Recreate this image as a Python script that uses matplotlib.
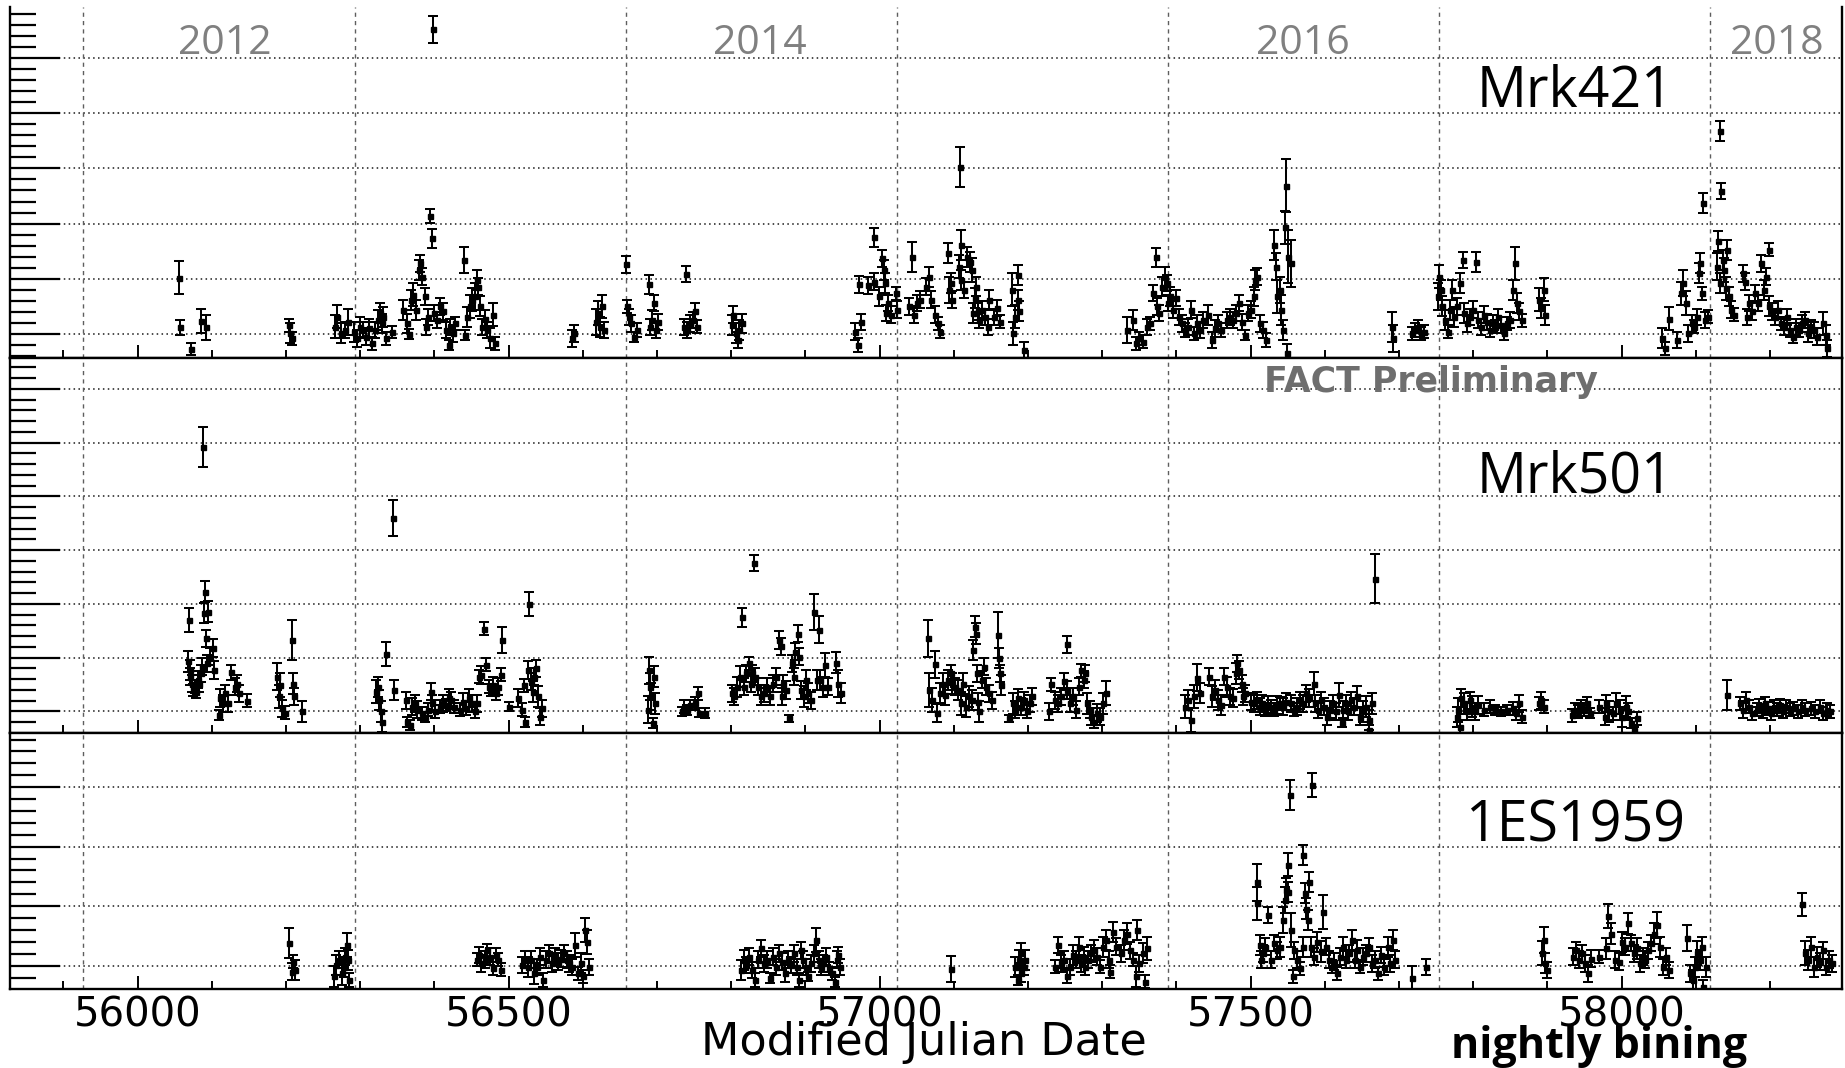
import matplotlib.pyplot as plt
from matplotlib.ticker import MultipleLocator

# Mrk421 nightly light curve (MJD, flux, error)
MRK421_MJD = [
    56056, 56057, 56072, 56085, 56092,
    56204, 56206, 56208,
    56266, 56269, 56274, 56280, 56284, 56292, 56296, 56300, 56304, 56308,
    56312, 56316, 56320, 56324, 56326, 56329, 56331, 56335, 56343,
    56358, 56363, 56366, 56369, 56371, 56375, 56379, 56381, 56383, 56387,
    56389, 56391, 56394, 56397, 56398, 56399, 56403, 56407, 56411, 56415,
    56419, 56421, 56425, 56428, 56440, 56441, 56444, 56448, 56451, 56455,
    56457, 56459, 56461, 56464, 56468, 56471, 56475, 56479, 56481,
    56586, 56588, 56618, 56620, 56623, 56626, 56628,
    56658, 56659, 56662, 56665, 56669, 56673, 56689, 56690, 56693, 56696,
    56699, 56701, 56737, 56739, 56741, 56745, 56749, 56751, 56754,
    56801, 56803, 56806, 56809, 56811, 56814,
    56967, 56971, 56972, 56975, 56985, 56992, 56993, 56999, 57003, 57006,
    57007, 57009, 57011, 57015, 57022, 57023, 57039, 57043, 57047, 57051,
    57055, 57063, 57067, 57069, 57074, 57078, 57081, 57092, 57093, 57096,
    57098, 57107, 57108, 57109, 57110, 57114, 57118, 57122, 57125, 57126,
    57128, 57130, 57132, 57134, 57138, 57142, 57146, 57148, 57154, 57158,
    57162, 57178, 57180, 57183, 57186, 57187, 57188, 57194,
    57333, 57341, 57345, 57350, 57355, 57361, 57365, 57369, 57373, 57374,
    57377, 57381, 57385, 57387, 57389, 57392, 57396, 57400, 57404, 57408,
    57412, 57416, 57420, 57424, 57428, 57432, 57436, 57443, 57448, 57452,
    57456, 57460, 57468, 57472, 57476, 57480, 57484, 57488, 57492, 57496,
    57500, 57504, 57506, 57509, 57513, 57517, 57521, 57532, 57534, 57536,
    57540, 57541, 57543, 57546, 57548, 57549, 57551, 57554,
    57691, 57692, 57718, 57722, 57726, 57730, 57734,
    57753, 57754, 57757, 57758, 57762, 57766, 57769, 57772, 57774, 57778,
    57782, 57786, 57788, 57792, 57796, 57800, 57804, 57806, 57810, 57814,
    57818, 57822, 57826, 57830, 57834, 57838, 57842, 57846, 57850, 57854,
    57856, 57859, 57862, 57866, 57889, 57892, 57895, 57897,
    58055, 58058, 58064, 58075, 58080, 58083, 58087, 58090, 58095, 58098,
    58101, 58104, 58106, 58108, 58110, 58112, 58116, 58128, 58130, 58132,
    58133, 58134, 58136, 58138, 58140, 58142, 58145, 58148, 58152, 58164,
    58166, 58169, 58172, 58176, 58180, 58184, 58188, 58192, 58195, 58198,
    58199, 58203, 58207, 58211, 58215, 58219, 58223, 58227, 58231, 58235,
    58239, 58243, 58247, 58251, 58255, 58259, 58263, 58271, 58275, 58277,
]
MRK421_FLUX = [
    1.02, 0.12, -0.27, 0.24, 0.12,
    0.16, 0.01, -0.08,
    0.13, 0.31, 0.01, 0.07, 0.22, 0.04, -0.08, 0.13, 0.07, -0.05,
    0.10, -0.17, 0.07, 0.25, 0.38, 0.19, 0.31, -0.08, 0.04,
    0.44, 0.19, 0.00, 0.62, 0.71, 0.44, 1.16, 1.28, 1.04, 0.68,
    0.13, 0.31, 2.14, 1.73, 5.52, 0.38, 0.25, 0.50, 0.41, 0.07,
    -0.20, 0.13, 0.01, 0.19, 1.34, -0.02, 0.31, 0.50, 0.62, 0.68,
    0.98, 0.86, 0.50, 0.13, 0.28, 0.07, -0.08, 0.35, -0.17,
    -0.08, 0.01, 0.22, 0.38, 0.13, 0.50, 0.07,
    1.26, 0.50, 0.31, 0.19, -0.05, 0.07, 0.90, 0.13, 0.25, 0.56,
    0.07, 0.22, 0.13, 1.09, 0.07, 0.19, 0.25, 0.41, 0.13,
    0.16, 0.35, 0.01, -0.11, 0.07, 0.19,
    0.04, -0.20, 0.90, 0.22, 0.88, 1.75, 0.95, 0.68, 1.37, 1.16,
    0.92, 0.38, 0.56, 0.35, 0.74, 0.44, 0.50, 1.39, 0.35, 0.56,
    0.62, 0.86, 1.04, 0.62, 0.35, 0.19, 0.04, 1.46, 0.80, 0.92,
    0.62, 1.22, 3.02, 1.61, 0.98, 0.80, 1.40, 1.31, 1.16, 0.38,
    0.65, 0.86, 0.41, 0.25, 0.44, 0.31, 0.13, 0.62, 0.31, 0.47,
    0.22, 0.80, 0.01, 0.31, 1.07, 0.62, 0.41, -0.29,
    0.07, 0.25, -0.17, -0.08, -0.14, 0.13, 0.19, 0.74, 1.39, 0.50,
    0.38, 0.86, 1.04, 0.92, 0.56, 0.68, 0.44, 0.65, 0.31, 0.19,
    0.07, 0.13, 0.44, 0.01, 0.19, 0.07, 0.25, 0.35, -0.11, 0.10,
    0.19, 0.07, 0.25, 0.31, 0.25, 0.38, 0.56, 0.22, -0.02, 0.38,
    0.44, 0.68, 0.98, 1.04, 0.19, 0.07, -0.11, 1.61, 1.22, 0.68,
    0.80, 0.44, 0.07, 1.93, 2.69, -0.34, 1.40, 1.28,
    0.13, -0.08, 0.01, 0.07, 0.13, 0.01, 0.04,
    0.68, 1.04, 0.80, 0.50, 0.25, 0.04, 0.44, 0.80, 0.31, 0.50,
    0.92, 1.34, 0.38, 0.19, 0.31, 0.44, 1.31, 0.25, 0.13, 0.35,
    0.22, 0.07, 0.19, 0.13, 0.31, 0.16, 0.01, 0.19, 0.25, 0.80,
    1.28, 0.56, 0.41, 0.25, 0.62, 0.47, 0.80, 0.35,
    -0.08, -0.26, 0.28, -0.11, 0.74, 0.92, 0.56, 0.01, 0.19, 0.13,
    0.31, 1.10, 1.28, 0.74, 2.38, 0.25, 0.31, 1.22, 1.69, 0.92,
    3.67, 2.59, 1.34, 1.16, 0.83, 1.52, 0.68, 0.44, 0.35, 1.10,
    0.95, 0.31, 0.56, 0.41, 0.74, 0.56, 1.28, 0.80, 1.04, 1.53,
    0.50, 0.41, 0.31, 0.44, 0.19, 0.13, 0.31, 0.07, -0.05, 0.13,
    0.07, 0.19, 0.25, 0.01, 0.13, 0.07, -0.05, 0.19, -0.02, -0.26,
]
MRK421_ERR = [
    0.30, 0.14, 0.11, 0.22, 0.22,
    0.12, 0.18, 0.12,
    0.21, 0.21, 0.18, 0.15, 0.24, 0.18, 0.15, 0.18, 0.15, 0.15,
    0.18, 0.12, 0.15, 0.18, 0.18, 0.18, 0.18, 0.12, 0.11,
    0.18, 0.18, 0.09, 0.18, 0.21, 0.18, 0.18, 0.15, 0.15, 0.15,
    0.15, 0.15, 0.13, 0.17, 0.25, 0.15, 0.15, 0.15, 0.15, 0.15,
    0.09, 0.15, 0.15, 0.12, 0.24, 0.09, 0.18, 0.21, 0.21, 0.24,
    0.18, 0.15, 0.18, 0.15, 0.15, 0.15, 0.18, 0.21, 0.12,
    0.15, 0.15, 0.24, 0.21, 0.18, 0.21, 0.15,
    0.15, 0.12, 0.15, 0.15, 0.09, 0.12, 0.17, 0.15, 0.18, 0.15,
    0.15, 0.15, 0.15, 0.15, 0.15, 0.15, 0.15, 0.15, 0.12,
    0.18, 0.15, 0.18, 0.15, 0.18, 0.18,
    0.15, 0.12, 0.15, 0.15, 0.15, 0.17, 0.15, 0.18, 0.15, 0.18,
    0.18, 0.15, 0.15, 0.15, 0.12, 0.15, 0.15, 0.27, 0.15, 0.15,
    0.15, 0.15, 0.18, 0.15, 0.15, 0.12, 0.12, 0.18, 0.24, 0.18,
    0.15, 0.21, 0.36, 0.27, 0.18, 0.15, 0.18, 0.18, 0.21, 0.18,
    0.18, 0.18, 0.15, 0.15, 0.15, 0.15, 0.15, 0.18, 0.15, 0.15,
    0.12, 0.30, 0.21, 0.21, 0.18, 0.18, 0.18, 0.15,
    0.24, 0.18, 0.12, 0.12, 0.12, 0.15, 0.12, 0.15, 0.17, 0.15,
    0.15, 0.18, 0.18, 0.15, 0.15, 0.18, 0.15, 0.15, 0.15, 0.15,
    0.12, 0.15, 0.15, 0.12, 0.15, 0.15, 0.15, 0.18, 0.15, 0.15,
    0.15, 0.12, 0.15, 0.15, 0.15, 0.15, 0.15, 0.15, 0.09, 0.15,
    0.15, 0.18, 0.18, 0.15, 0.15, 0.15, 0.12, 0.27, 0.24, 0.30,
    0.24, 0.27, 0.18, 0.30, 0.48, 0.15, 0.48, 0.42,
    0.27, 0.24, 0.12, 0.12, 0.12, 0.12, 0.12,
    0.24, 0.21, 0.18, 0.18, 0.18, 0.12, 0.18, 0.18, 0.18, 0.15,
    0.18, 0.15, 0.18, 0.15, 0.15, 0.15, 0.18, 0.15, 0.15, 0.15,
    0.15, 0.12, 0.15, 0.12, 0.15, 0.15, 0.12, 0.12, 0.15, 0.18,
    0.30, 0.18, 0.15, 0.12, 0.21, 0.18, 0.21, 0.18,
    0.18, 0.12, 0.21, 0.15, 0.21, 0.24, 0.21, 0.15, 0.15, 0.12,
    0.15, 0.18, 0.18, 0.12, 0.18, 0.15, 0.12, 0.24, 0.18, 0.18,
    0.18, 0.15, 0.18, 0.21, 0.21, 0.18, 0.18, 0.15, 0.12, 0.15,
    0.15, 0.15, 0.15, 0.15, 0.15, 0.15, 0.15, 0.18, 0.15, 0.12,
    0.18, 0.15, 0.15, 0.15, 0.12, 0.15, 0.15, 0.12, 0.12, 0.15,
    0.12, 0.15, 0.15, 0.15, 0.12, 0.15, 0.15, 0.21, 0.18, 0.15,
]

# Mrk501 nightly light curve
MRK501_MJD = [
    56068, 56069, 56070, 56071, 56073, 56075, 56077, 56079, 56081, 56083,
    56085, 56087, 56088, 56089, 56091, 56092, 56093, 56095, 56097, 56101,
    56103, 56109, 56111, 56115, 56118, 56122, 56126, 56131, 56134, 56137,
    56147, 56188, 56190, 56192, 56195, 56198, 56208, 56210, 56211, 56222,
    56321, 56324, 56325, 56328, 56330, 56335, 56344, 56346, 56362, 56363,
    56367, 56370, 56374, 56377, 56383, 56387, 56391, 56395, 56397, 56401,
    56407, 56411, 56415, 56419, 56423, 56427, 56435, 56439, 56443, 56447,
    56451, 56455, 56457, 56460, 56463, 56467, 56470, 56473, 56476, 56479,
    56483, 56486, 56490, 56491, 56500, 56512, 56518, 56521, 56522, 56526,
    56528, 56530, 56533, 56534, 56537, 56540, 56542, 56545,
    56688, 56689, 56691, 56692, 56694, 56696, 56697,
    56733, 56737, 56741, 56745, 56751, 56755, 56757, 56765,
    56801, 56804, 56808, 56812, 56815, 56817, 56820, 56824, 56826, 56828,
    56831, 56832, 56836, 56840, 56844, 56848, 56852, 56856, 56860, 56864,
    56867, 56868, 56870, 56874, 56878, 56882, 56884, 56886, 56890, 56892,
    56894, 56898, 56901, 56904, 56908, 56912, 56915, 56918, 56920, 56924,
    56926, 56930, 56941, 56944, 56948,
    57065, 57067, 57071, 57074, 57077, 57081, 57085, 57088, 57092, 57096,
    57098, 57102, 57106, 57109, 57112, 57116, 57120, 57125, 57126, 57128,
    57130, 57131, 57133, 57134, 57138, 57140, 57144, 57148, 57152, 57160,
    57161, 57162, 57163, 57174, 57180, 57183, 57186, 57190, 57194, 57198,
    57202, 57206, 57228, 57231, 57236, 57240, 57245, 57249, 57252, 57253,
    57257, 57261, 57265, 57269, 57272, 57275, 57277, 57280, 57283, 57285,
    57289, 57293, 57297, 57301, 57305,
    57411, 57415, 57420, 57424, 57428, 57432, 57444, 57448, 57452, 57456,
    57460, 57464, 57468, 57472, 57476, 57480, 57482, 57485, 57488, 57490,
    57493, 57500, 57504, 57508, 57512, 57516, 57520, 57524, 57528, 57532,
    57536, 57540, 57544, 57548, 57555, 57559, 57563, 57567, 57571, 57575,
    57579, 57585, 57587, 57591, 57595, 57599, 57603, 57607, 57611, 57615,
    57619, 57623, 57625, 57629, 57631, 57635, 57639, 57643, 57647, 57651,
    57655, 57659, 57660, 57663, 57667,
    57778, 57780, 57782, 57784, 57788, 57792, 57796, 57799, 57802, 57806,
    57814, 57822, 57830, 57838, 57846, 57854, 57858, 57862, 57866, 57889,
    57892, 57895, 57933, 57937, 57941, 57945, 57949, 57953, 57957, 57969,
    57977, 57979, 57983, 57989, 57993, 57998, 58001, 58006, 58009, 58013,
    58017, 58021, 58142, 58160, 58164, 58168, 58172, 58176, 58182, 58185,
    58190, 58193, 58197, 58201, 58205, 58209, 58214, 58218, 58222, 58227,
    58231, 58238, 58243, 58247, 58255, 58261, 58267, 58271, 58277, 58281,
]
MRK501_FLUX = [
    0.93, 1.70, 0.77, 0.65, 0.52, 0.40, 0.46, 0.37, 0.59, 0.52,
    0.71, 0.83, 4.92, 1.83, 2.23, 1.36, 0.90, 1.86, 1.02, 1.18,
    0.77, -0.07, 0.25, 0.15, 0.34, 0.15, 0.73, 0.46, 0.52, 0.34,
    0.20, 0.65, 0.28, 0.49, 0.06, -0.02, 1.33, 0.52, 0.28, 0.00,
    0.37, 0.46, 0.21, 0.00, -0.19, 1.07, 3.60, 0.40, 0.21, -0.19,
    -0.25, 0.09, 0.15, 0.03, -0.03, -0.10, 0.03, 0.37, 0.15, 0.00,
    0.09, 0.15, 0.12, 0.25, 0.21, 0.09, 0.03, 0.18, 0.06, 0.25,
    0.15, 0.00, 0.15, 0.65, 0.68, 1.54, 0.87, 0.46, 0.40, 0.49,
    0.34, 0.46, 0.68, 1.33, 0.09, 0.25, 0.03, 0.49, -0.19, 0.77,
    2.00, 0.56, 0.37, 0.65, 0.80, 0.28, -0.10, 0.06,
    0.03, 0.77, 0.46, 0.28, -0.22, 0.65, 0.15,
    0.00, 0.09, 0.03, 0.12, 0.15, 0.34, -0.02, -0.03,
    0.34, 0.28, 0.46, 0.65, 1.75, 0.46, 0.71, 0.90, 0.52, 0.71,
    2.77, 0.65, 0.46, 0.28, 0.34, 0.46, 0.28, 0.52, 0.65, 1.33,
    1.21, 0.28, 0.52, 0.40, -0.13, 0.90, 0.65, 1.11, 1.45, 1.02,
    0.40, 0.28, 0.59, 0.34, 0.21, 1.85, 0.59, 1.52, 0.59, 0.46,
    0.87, 0.46, 0.91, 0.52, 0.34,
    1.36, 0.40, 0.21, 0.88, -0.03, 0.34, 0.52, 0.31, 0.59, 0.71,
    0.52, 0.46, 0.40, 0.15, 0.52, 0.09, 0.28, 0.21, 1.14, 1.58,
    1.45, 0.71, 0.18, 0.00, 0.59, 0.83, 0.46, 0.34, 0.21, 1.42,
    0.99, 0.71, 0.49, -0.13, 0.15, 0.03, 0.25, 0.09, 0.21, 0.00,
    0.15, 0.28, 0.00, 0.51, 0.21, 0.15, 0.28, 0.56, 1.25, 0.40,
    0.15, 0.28, 0.03, 0.46, 0.77, 0.59, 0.71, 0.15, 0.03, -0.10,
    -0.19, -0.03, -0.10, 0.15, 0.34,
    0.09, 0.21, -0.16, 0.28, 0.63, 0.34, 0.65, 0.28, 0.40, 0.21,
    0.12, 0.65, 0.46, 0.28, 0.25, 0.71, 0.90, 0.77, 0.52, 0.28,
    0.34, 0.18, 0.15, 0.21, 0.09, 0.15, 0.03, 0.12, 0.09, 0.03,
    0.12, 0.15, 0.09, 0.18, 0.15, 0.03, 0.09, 0.21, 0.15, 0.34,
    0.25, 0.52, 0.15, 0.03, 0.21, 0.09, -0.10, 0.03, 0.15, 0.00,
    0.31, -0.22, 0.03, 0.15, 0.00, 0.21, 0.09, 0.28, -0.10, 0.00,
    0.09, -0.16, -0.34, 0.15, 2.47,
    -0.10, 0.03, -0.28, 0.25, 0.15, 0.00, 0.21, 0.09, 0.00, 0.12,
    0.03, 0.09, 0.03, 0.00, 0.03, 0.06, -0.03, 0.15, -0.10, 0.15,
    0.21, 0.09, -0.07, 0.03, 0.00, 0.09, 0.03, 0.15, -0.03, 0.09,
    -0.10, 0.15, 0.00, -0.03, 0.15, 0.03, -0.10, 0.09, 0.00, -0.22,
    -0.34, -0.13, 0.31, 0.15, 0.03, 0.21, 0.09, -0.03, 0.03, 0.12,
    0.00, 0.15, 0.06, -0.03, 0.09, 0.03, 0.12, 0.00, 0.09, 0.03,
    0.06, 0.00, 0.09, 0.03, 0.06, 0.00, 0.09, -0.03, 0.03, 0.00,
]
MRK501_ERR = [
    0.19, 0.22, 0.19, 0.16, 0.16, 0.12, 0.12, 0.12, 0.16, 0.16,
    0.16, 0.16, 0.38, 0.19, 0.20, 0.16, 0.16, 0.19, 0.16, 0.16,
    0.16, 0.09, 0.16, 0.16, 0.16, 0.16, 0.14, 0.16, 0.16, 0.16,
    0.12, 0.25, 0.22, 0.22, 0.16, 0.12, 0.37, 0.19, 0.16, 0.19,
    0.22, 0.19, 0.19, 0.19, 0.19, 0.22, 0.34, 0.19, 0.16, 0.09,
    0.09, 0.16, 0.16, 0.16, 0.12, 0.09, 0.12, 0.16, 0.16, 0.12,
    0.12, 0.16, 0.12, 0.16, 0.16, 0.12, 0.12, 0.16, 0.12, 0.16,
    0.16, 0.12, 0.16, 0.12, 0.16, 0.12, 0.12, 0.12, 0.12, 0.16,
    0.12, 0.16, 0.12, 0.25, 0.09, 0.16, 0.12, 0.12, 0.09, 0.16,
    0.22, 0.16, 0.19, 0.16, 0.16, 0.19, 0.16, 0.16,
    0.25, 0.25, 0.25, 0.25, 0.09, 0.19, 0.19,
    0.09, 0.12, 0.09, 0.09, 0.12, 0.12, 0.09, 0.09,
    0.16, 0.16, 0.19, 0.19, 0.17, 0.16, 0.16, 0.12, 0.16, 0.16,
    0.15, 0.16, 0.16, 0.16, 0.16, 0.16, 0.16, 0.16, 0.16, 0.16,
    0.16, 0.16, 0.16, 0.16, 0.06, 0.16, 0.16, 0.16, 0.16, 0.16,
    0.16, 0.19, 0.19, 0.19, 0.16, 0.34, 0.19, 0.25, 0.19, 0.19,
    0.22, 0.16, 0.19, 0.25, 0.19,
    0.34, 0.31, 0.22, 0.25, 0.16, 0.19, 0.19, 0.19, 0.19, 0.16,
    0.19, 0.16, 0.19, 0.22, 0.19, 0.19, 0.19, 0.19, 0.19, 0.19,
    0.19, 0.16, 0.16, 0.19, 0.16, 0.16, 0.16, 0.16, 0.16, 0.43,
    0.19, 0.16, 0.19, 0.06, 0.19, 0.16, 0.16, 0.16, 0.16, 0.12,
    0.16, 0.16, 0.16, 0.12, 0.16, 0.16, 0.16, 0.16, 0.16, 0.16,
    0.16, 0.16, 0.16, 0.16, 0.12, 0.16, 0.16, 0.19, 0.16, 0.16,
    0.12, 0.16, 0.16, 0.19, 0.22,
    0.22, 0.19, 0.22, 0.22, 0.25, 0.19, 0.16, 0.19, 0.19, 0.19,
    0.19, 0.16, 0.19, 0.16, 0.16, 0.19, 0.16, 0.16, 0.16, 0.16,
    0.16, 0.16, 0.16, 0.16, 0.16, 0.16, 0.12, 0.16, 0.12, 0.12,
    0.16, 0.12, 0.16, 0.16, 0.16, 0.12, 0.16, 0.16, 0.16, 0.16,
    0.16, 0.22, 0.16, 0.16, 0.16, 0.16, 0.16, 0.16, 0.16, 0.16,
    0.22, 0.06, 0.16, 0.16, 0.16, 0.16, 0.16, 0.19, 0.16, 0.19,
    0.19, 0.19, 0.09, 0.19, 0.46,
    0.19, 0.22, 0.12, 0.16, 0.19, 0.16, 0.16, 0.19, 0.16, 0.16,
    0.12, 0.12, 0.09, 0.09, 0.09, 0.12, 0.12, 0.16, 0.12, 0.12,
    0.16, 0.12, 0.12, 0.12, 0.12, 0.12, 0.12, 0.12, 0.09, 0.12,
    0.16, 0.16, 0.19, 0.12, 0.19, 0.19, 0.19, 0.19, 0.16, 0.09,
    0.06, 0.12, 0.28, 0.12, 0.16, 0.16, 0.12, 0.12, 0.12, 0.12,
    0.12, 0.12, 0.12, 0.12, 0.12, 0.12, 0.12, 0.12, 0.12, 0.12,
    0.12, 0.12, 0.12, 0.12, 0.12, 0.12, 0.12, 0.12, 0.12, 0.12,
]

# 1ES1959+650 nightly light curve
ES1959_MJD = [
    56204, 56208, 56210, 56212, 56264, 56268, 56272, 56276, 56278, 56280,
    56282, 56284, 56285, 56457, 56460, 56463, 56468, 56471, 56475, 56479,
    56483, 56486, 56490, 56518, 56522, 56526, 56530, 56534, 56538, 56542,
    56546, 56550, 56554, 56558, 56562, 56566, 56570, 56574, 56578, 56582,
    56586, 56590, 56594, 56598, 56600, 56603, 56606, 56608,
    56813, 56817, 56820, 56824, 56828, 56832, 56836, 56840, 56844, 56848,
    56852, 56856, 56860, 56864, 56868, 56872, 56876, 56880, 56884, 56888,
    56892, 56894, 56897, 56901, 56904, 56908, 56912, 56914, 56918, 56921,
    56924, 56928, 56932, 56936, 56940, 56942, 56944, 56946,
    57096, 57183, 57186, 57188, 57190, 57191, 57194, 57196,
    57237, 57241, 57245, 57249, 57253, 57257, 57261, 57265, 57269, 57272,
    57275, 57277, 57281, 57285, 57289, 57293, 57297, 57301, 57305, 57309,
    57311, 57315, 57319, 57325, 57329, 57333, 57337, 57341, 57345, 57347,
    57350, 57355, 57358, 57361,
    57508, 57509, 57512, 57514, 57517, 57520, 57524, 57528, 57532, 57536,
    57540, 57544, 57546, 57548, 57550, 57551, 57553, 57554, 57557, 57559,
    57563, 57567, 57570, 57571, 57573, 57575, 57577, 57579, 57581, 57583,
    57586, 57589, 57595, 57598, 57602, 57605, 57609, 57613, 57617, 57621,
    57625, 57629, 57633, 57637, 57640, 57644, 57648, 57652, 57656, 57660,
    57664, 57668, 57672, 57676, 57680, 57685, 57688, 57692, 57695, 57718,
    57737, 57893, 57896, 57897, 57900, 57935, 57939, 57943, 57947, 57951,
    57955, 57959, 57969, 57979, 57982, 57986, 57991, 57997, 58001, 58005,
    58009, 58013, 58017, 58021, 58025, 58029, 58032, 58036, 58040, 58044,
    58048, 58052, 58056, 58060, 58064, 58088, 58092, 58096, 58099, 58102,
    58106, 58108, 58110, 58114, 58243, 58247, 58251, 58255, 58259, 58263,
    58267, 58271, 58275, 58279, 58283,
]
ES1959_FLUX = [
    0.38, -0.10, 0.07, -0.07, -0.18, 0.01, 0.10, -0.13, -0.02, 0.15,
    0.35, 0.10, -0.24, 0.10, 0.18, 0.04, 0.10, 0.26, 0.15, -0.04,
    0.18, 0.10, -0.07, 0.01, 0.10, -0.02, 0.10, -0.13, -0.02, 0.15,
    -0.24, 0.10, 0.21, 0.04, 0.15, 0.07, 0.12, 0.21, 0.10, 0.04,
    -0.02, 0.35, -0.13, 0.04, -0.18, 0.60, 0.40, -0.02,
    -0.07, 0.10, 0.01, 0.15, -0.07, -0.24, 0.10, 0.29, 0.04, 0.10,
    -0.21, 0.15, -0.02, 0.21, 0.07, -0.13, 0.10, 0.01, 0.21, -0.02,
    -0.24, 0.26, 0.10, -0.02, -0.18, 0.04, 0.21, 0.43, 0.10, -0.02,
    0.04, 0.15, -0.04, -0.13, -0.27, 0.10, 0.18, -0.02,
    -0.06, -0.02, -0.24, 0.10, -0.13, 0.21, -0.02, 0.10,
    -0.02, 0.35, 0.04, 0.10, -0.18, -0.02, 0.18, 0.10, 0.32, 0.04,
    0.15, -0.02, 0.10, 0.21, 0.26, 0.15, -0.02, 0.32, 0.43, 0.10,
    -0.10, 0.57, 0.32, 0.21, 0.43, 0.54, 0.26, 0.10, -0.18, 0.60,
    0.04, 0.21, -0.27, 0.29,
    1.40, 1.05, 0.35, 0.10, 0.21, 0.32, 0.85, 0.10, 0.38, 0.26,
    0.32, 0.77, 1.10, 1.27, 1.24, 1.70, 2.87, 0.60, -0.18, 0.26,
    0.10, -0.04, 0.32, 1.86, 1.22, 0.96, 0.77, 1.41, 0.32, 3.04,
    0.15, 0.40, 0.24, 0.90, 0.32, 0.10, -0.02, 0.07, -0.13, 0.15,
    0.32, 0.10, 0.21, 0.43, 0.10, 0.26, -0.02, 0.15, 0.21, 0.32,
    0.04, 0.10, -0.13, 0.18, -0.02, 0.32, 0.04, 0.43, 0.10, -0.21,
    -0.02, 0.21, 0.43, 0.04, -0.07, 0.15, 0.26, 0.10, 0.21, 0.04,
    -0.13, 0.12, 0.15, 0.29, 0.84, 0.54, 0.10, 0.07, 0.40, 0.32,
    0.71, 0.38, 0.21, 0.29, 0.04, 0.15, 0.10, 0.26, 0.38, 0.54,
    0.68, 0.32, -0.02, 0.15, -0.07, 0.46, -0.13, -0.24, -0.02, 0.21,
    0.10, 0.32, -0.35, -0.02, 1.03, 0.21, 0.10, 0.32, -0.02, 0.15,
    0.07, 0.26, -0.02, 0.10, 0.04,
]
ES1959_ERR = [
    0.25, 0.14, 0.11, 0.17, 0.17, 0.17, 0.14, 0.20, 0.17, 0.14,
    0.20, 0.17, 0.11, 0.11, 0.14, 0.14, 0.14, 0.11, 0.14, 0.11,
    0.11, 0.11, 0.11, 0.14, 0.14, 0.17, 0.14, 0.17, 0.14, 0.14,
    0.11, 0.14, 0.14, 0.14, 0.14, 0.14, 0.14, 0.14, 0.14, 0.14,
    0.14, 0.20, 0.11, 0.17, 0.11, 0.20, 0.20, 0.14,
    0.17, 0.17, 0.14, 0.14, 0.14, 0.11, 0.14, 0.14, 0.14, 0.14,
    0.08, 0.14, 0.14, 0.14, 0.14, 0.14, 0.14, 0.14, 0.14, 0.14,
    0.11, 0.14, 0.14, 0.14, 0.08, 0.14, 0.14, 0.20, 0.14, 0.14,
    0.14, 0.14, 0.11, 0.11, 0.08, 0.14, 0.14, 0.14,
    0.22, 0.17, 0.08, 0.17, 0.14, 0.17, 0.14, 0.17,
    0.11, 0.14, 0.14, 0.14, 0.11, 0.14, 0.17, 0.14, 0.17, 0.14,
    0.17, 0.14, 0.14, 0.14, 0.17, 0.14, 0.11, 0.17, 0.17, 0.14,
    0.11, 0.17, 0.14, 0.14, 0.17, 0.17, 0.14, 0.11, 0.17, 0.17,
    0.14, 0.17, 0.11, 0.20,
    0.31, 0.28, 0.17, 0.14, 0.14, 0.14, 0.14, 0.14, 0.14, 0.14,
    0.17, 0.22, 0.22, 0.20, 0.17, 0.20, 0.25, 0.28, 0.11, 0.14,
    0.14, 0.11, 0.17, 0.17, 0.17, 0.17, 0.17, 0.17, 0.17, 0.20,
    0.14, 0.17, 0.17, 0.28, 0.14, 0.14, 0.11, 0.14, 0.11, 0.14,
    0.17, 0.14, 0.14, 0.17, 0.14, 0.17, 0.11, 0.14, 0.14, 0.14,
    0.14, 0.14, 0.11, 0.14, 0.14, 0.17, 0.14, 0.17, 0.14, 0.20,
    0.14, 0.20, 0.22, 0.17, 0.14, 0.14, 0.14, 0.14, 0.14, 0.14,
    0.14, 0.14, 0.11, 0.17, 0.20, 0.17, 0.14, 0.14, 0.17, 0.14,
    0.17, 0.14, 0.14, 0.17, 0.14, 0.14, 0.14, 0.14, 0.14, 0.17,
    0.22, 0.17, 0.14, 0.14, 0.14, 0.22, 0.14, 0.17, 0.17, 0.20,
    0.17, 0.17, 0.11, 0.17, 0.20, 0.20, 0.17, 0.17, 0.17, 0.17,
    0.14, 0.14, 0.14, 0.14, 0.14,
]

# calendar year boundaries (MJD of 1 January) and the year captions
YEAR_STARTS = [55927, 56293, 56658, 57023, 57388, 57754, 58119]
YEAR_NAMES = ['2012', '2014', '2016', '2018']
YEAR_NAME_MJD = [56117, 56838, 57571, 58209]
MJD_TICKS = [56000, 56500, 57000, 57500, 58000]

W, H = 1845, 1068
fig = plt.figure(figsize=(W / 100, H / 100), dpi=100)


def make_axes(top, bottom):
    # top/bottom given in pixels from the top edge of the figure
    return fig.add_axes([10 / W, 1 - bottom / H, 1832 / W, (bottom - top) / H])


def draw_panel(ax, mjd, flux, err, ylim, name, name_y):
    ax.set_xlim(55828, 58297)
    ax.set_ylim(*ylim)
    for day in YEAR_STARTS:
        ax.axvline(day, color='#5e5e5e', lw=1.0, ls=(0, (3, 3)), zorder=1)
    ax.set_axisbelow(True)
    ax.yaxis.set_major_locator(MultipleLocator(1))
    ax.yaxis.set_minor_locator(MultipleLocator(0.2))
    ax.set_xticks(MJD_TICKS)
    ax.xaxis.set_minor_locator(MultipleLocator(100))
    ax.grid(axis='y', which='major', color='#1a1a1a', lw=1.1, ls=(0, (1, 2.2)))
    ax.tick_params(axis='y', which='major', direction='in', length=36, width=1.6,
                   labelleft=False)
    ax.tick_params(axis='y', which='minor', direction='in', length=19, width=1.6)
    ax.tick_params(axis='x', which='major', direction='in', length=9.5, width=1.4,
                   labelbottom=False)
    ax.tick_params(axis='x', which='minor', direction='in', length=5.5, width=1.4)
    for side in ax.spines.values():
        side.set_linewidth(1.7)
    ax.errorbar(mjd, flux, yerr=err, fmt='s', ms=3.6, color='black', ecolor='black',
                elinewidth=1.45, capsize=3.6, capthick=1.45, zorder=3)
    ax.text(57937, name_y, name, fontsize=40, family='Open Sans', ha='center',
            va='baseline', color='black', zorder=5)


ax1 = make_axes(7, 357.5)
ax2 = make_axes(357.5, 732.5)
ax3 = make_axes(732.5, 988.5)

draw_panel(ax1, MRK421_MJD, MRK421_FLUX, MRK421_ERR, (-0.426, 5.924), 'Mrk421', 4.11)
draw_panel(ax2, MRK501_MJD, MRK501_FLUX, MRK501_ERR, (-0.391, 6.586), 'Mrk501', 4.08)
draw_panel(ax3, ES1959_MJD, ES1959_FLUX, ES1959_ERR, (-0.383, 3.919), '1ES1959', 2.08)

ax1.spines['top'].set_visible(False)

for label, day in zip(YEAR_NAMES, YEAR_NAME_MJD):
    ax1.text(day, 5.08, label, fontsize=29.5, family='Open Sans', color='#808080',
             ha='center', va='baseline')

ax2.text(57743, 5.95, 'FACT Preliminary', fontsize=25, family='DejaVu Sans',
         fontweight='bold', color='#6e6e6e', ha='center', va='baseline', zorder=6)

ax3.set_xticklabels([str(t) for t in MJD_TICKS])
ax3.tick_params(axis='x', which='major', labelbottom=True, labelsize=29, pad=5)
for lab in ax3.get_xticklabels():
    lab.set_family('DejaVu Sans')

fig.text(924 / W, 1 - 1055 / H, 'Modified Julian Date', fontsize=32,
         family='DejaVu Sans', ha='center', va='baseline')
fig.text(1599 / W, 1 - 1058 / H, 'nightly bining', fontsize=31, family='Open Sans',
         fontweight='bold', ha='center', va='baseline')

fig.savefig('out.png', dpi=100)
